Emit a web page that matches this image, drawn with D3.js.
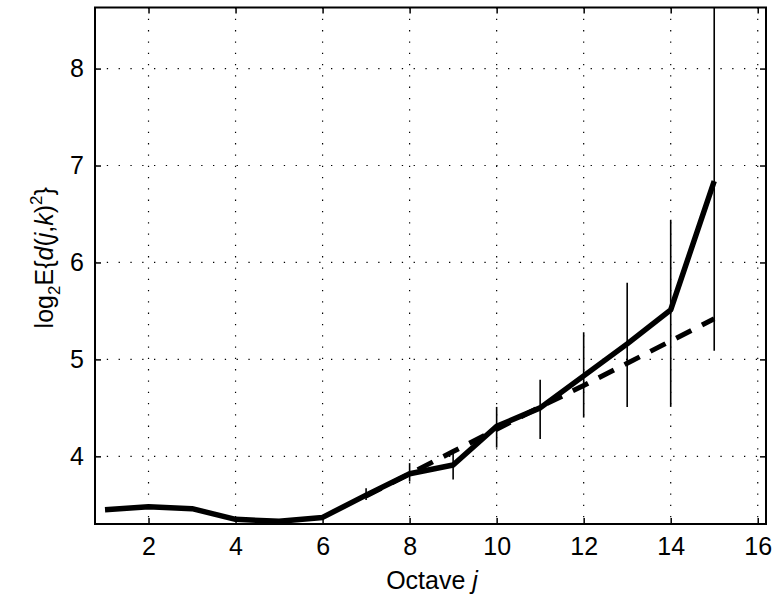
<!DOCTYPE html>
<html>
<head>
<meta charset="utf-8">
<script src="https://cdn.jsdelivr.net/npm/d3@7"></script>
<style>
  html, body { margin: 0; padding: 0; background: #fff; }
  svg { display: block; font-family: "Liberation Sans", Arial, Helvetica, sans-serif; }
</style>
</head>
<body>
<svg id="chart" width="776" height="600"></svg>
<script>
// ---- data ----
const octaves = [1, 2, 3, 4, 5, 6, 7, 8, 9, 10, 11, 12, 13, 14, 15];
const logEnergy = [3.45, 3.48, 3.46, 3.35, 3.33, 3.37, 3.60, 3.82, 3.91, 4.31, 4.50, 4.83, 5.16, 5.51, 6.84];
const errLow  = [null, null, null, null, null, null, 3.55, 3.74, 3.76, 4.09, 4.18, 4.40, 4.51, 4.51, 5.09];
const errHigh = [null, null, null, null, null, null, 3.67, 3.93, 4.05, 4.51, 4.79, 5.28, 5.79, 6.44, 9.00];
const fitOctaves = [7, 8, 9, 10, 11, 12, 13, 14, 15];
const fitValues  = [3.59, 3.82, 4.05, 4.28, 4.51, 4.73, 4.96, 5.19, 5.42];
const xTicks = [2, 4, 6, 8, 10, 12, 14, 16];
const yTicks = [4, 5, 6, 7, 8];

// ---- layout ----
const svg = d3.select("#chart");
const L = 95, R = 766, T = 7.5, B = 524;
const x = d3.scaleLinear().domain([0.77, 16.19]).range([L, R]);
const y = d3.scaleLinear().domain([3.302, 8.63]).range([B, T]);

svg.append("defs").append("clipPath").attr("id", "clip")
  .append("rect").attr("x", L).attr("y", T).attr("width", R - L).attr("height", B - T);

// grid (dotted)
const grid = svg.append("g");
grid.selectAll("line.gx").data(xTicks).join("line")
  .attr("x1", d => x(d)).attr("x2", d => x(d)).attr("y1", T).attr("y2", B)
  .attr("stroke", "#000").attr("stroke-width", 1.2).attr("stroke-dasharray", "1.3,10");
grid.selectAll("line.gy").data(yTicks).join("line")
  .attr("y1", d => y(d)).attr("y2", d => y(d)).attr("x1", L).attr("x2", R)
  .attr("stroke", "#000").attr("stroke-width", 1.2).attr("stroke-dasharray", "1.3,10.5");

// axes (ticks inward, on all four sides)
const tl = 6;
svg.append("g").attr("transform", `translate(0,${B})`)
  .call(d3.axisBottom(x).tickValues(xTicks).tickSize(-tl).tickPadding(13).tickFormat(d3.format("d")))
  .call(g => g.select(".domain").remove());
svg.append("g").attr("transform", `translate(0,${T})`)
  .call(d3.axisTop(x).tickValues(xTicks).tickSize(-tl).tickFormat(""))
  .call(g => g.select(".domain").remove());
svg.append("g").attr("transform", `translate(${L},0)`)
  .call(d3.axisLeft(y).tickValues(yTicks).tickSize(-tl).tickPadding(11).tickFormat(d3.format("d")))
  .call(g => g.select(".domain").remove());
svg.append("g").attr("transform", `translate(${R},0)`)
  .call(d3.axisRight(y).tickValues(yTicks).tickSize(-tl).tickFormat(""))
  .call(g => g.select(".domain").remove());
svg.selectAll(".tick line").attr("stroke", "#000").attr("stroke-width", 1.5);
svg.selectAll(".tick text").attr("font-size", 25).attr("fill", "#000")
  .attr("font-family", "Liberation Sans, Arial, sans-serif");

svg.append("rect").attr("x", L).attr("y", T).attr("width", R - L).attr("height", B - T)
  .attr("fill", "none").attr("stroke", "#000").attr("stroke-width", 2);

const plot = svg.append("g").attr("clip-path", "url(#clip)");

// error bars
const eb = octaves.map((o, i) => ({ o, lo: errLow[i], hi: errHigh[i] })).filter(d => d.lo !== null);
plot.selectAll("line.err").data(eb).join("line")
  .attr("x1", d => x(d.o)).attr("x2", d => x(d.o))
  .attr("y1", d => y(d.lo)).attr("y2", d => y(d.hi))
  .attr("stroke", "#000").attr("stroke-width", 1.6);

// fitted dashed line
plot.append("path")
  .datum(fitOctaves.map((o, i) => [o, fitValues[i]]))
  .attr("d", d3.line().x(d => x(d[0])).y(d => y(d[1])))
  .attr("fill", "none").attr("stroke", "#000").attr("stroke-width", 5)
  .attr("stroke-dasharray", "17,12");

// main solid line
plot.append("path")
  .datum(octaves.map((o, i) => [o, logEnergy[i]]))
  .attr("d", d3.line().x(d => x(d[0])).y(d => y(d[1])))
  .attr("fill", "none").attr("stroke", "#000").attr("stroke-width", 5.5)
  .attr("stroke-linejoin", "round");

// x label
const xl = svg.append("text").attr("x", 432).attr("y", 589)
  .attr("text-anchor", "middle").attr("font-size", 25).attr("fill", "#000");
xl.append("tspan").text("Octave ");
xl.append("tspan").attr("font-style", "italic").text("j");

// y label
const yl = svg.append("text")
  .attr("transform", `translate(53,${(T + B) / 2 - 8}) rotate(-90)`)
  .attr("text-anchor", "middle").attr("font-size", 25).attr("fill", "#000");
yl.append("tspan").text("log");
yl.append("tspan").attr("font-size", 17).attr("dy", 7).text("2");
yl.append("tspan").attr("dy", -7).text("E{");
yl.append("tspan").attr("font-style", "italic").text("d");
yl.append("tspan").text("(");
yl.append("tspan").attr("font-style", "italic").text("j");
yl.append("tspan").text(",");
yl.append("tspan").attr("font-style", "italic").text("k");
yl.append("tspan").text(")");
yl.append("tspan").attr("font-size", 17).attr("dy", -11).text("2");
yl.append("tspan").attr("dy", 11).text("}");
</script>
</body>
</html>
